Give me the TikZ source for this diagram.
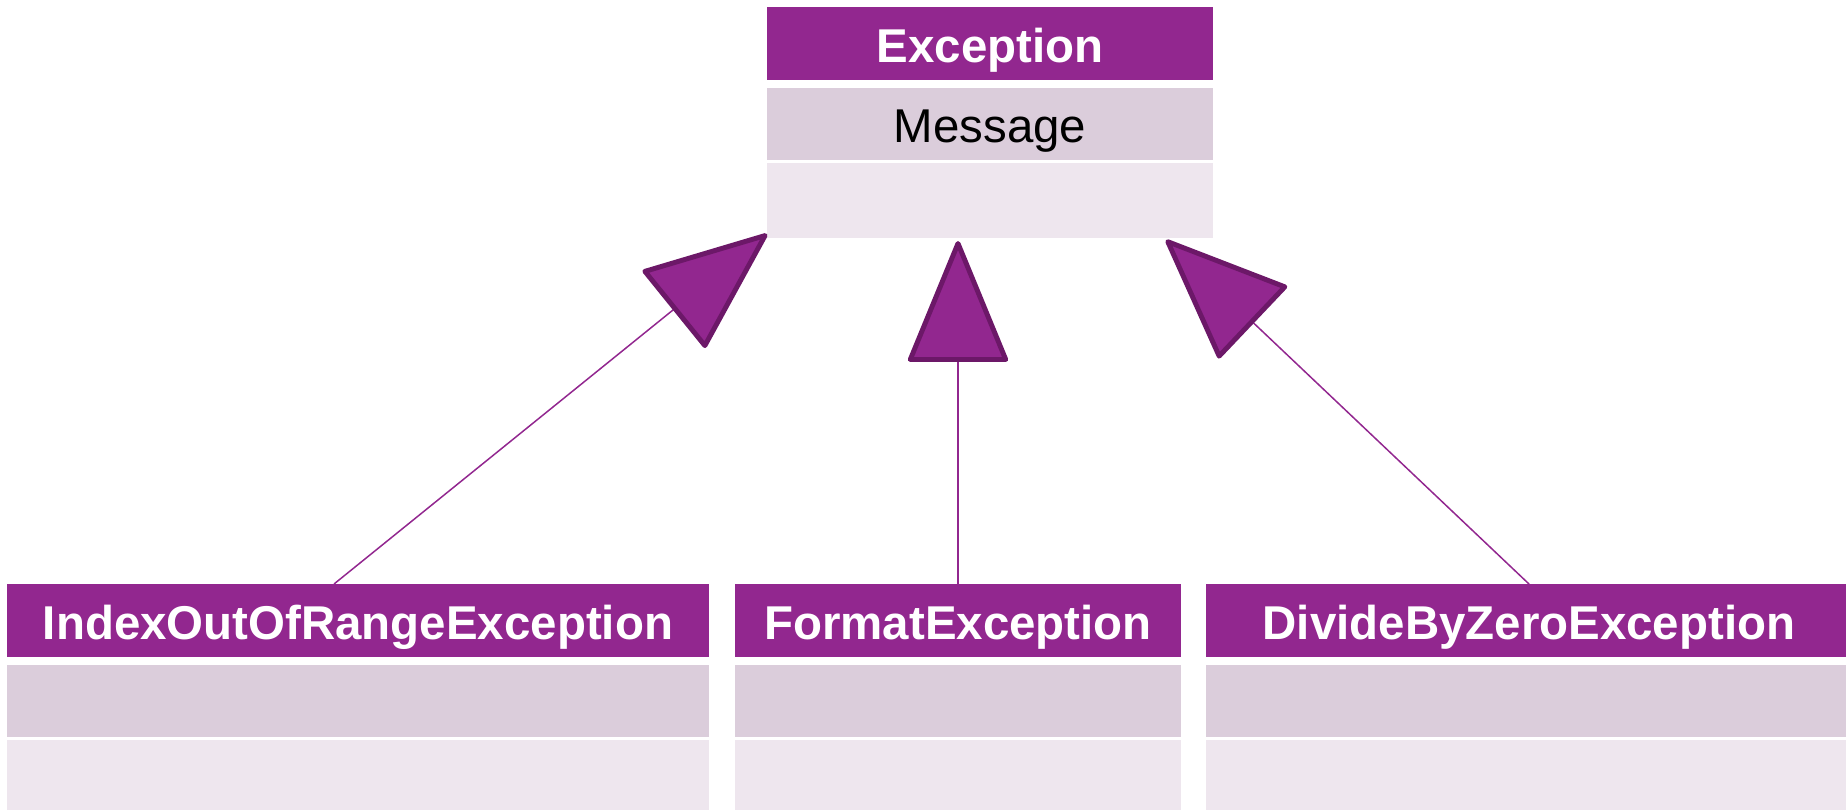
\documentclass[tikz,border=0pt]{standalone}
\usepackage{fontspec}
\setmainfont{Liberation Sans}
\usepackage{xcolor}
\usepackage{tikz}
\usetikzlibrary{positioning}
\usetikzlibrary{arrows.meta}
\usetikzlibrary{calc}
\definecolor{umlpurple}{RGB}{146,39,143}
\definecolor{umldark}{RGB}{108,24,104}
\definecolor{umlattr}{RGB}{219,205,219}
\definecolor{umlops}{RGB}{238,230,238}
\tikzset{
    classhead/.style = {rectangle, fill=umlpurple, text=white, inner sep=0pt, outer sep=0pt, minimum height=1.46cm, text height=26.5pt, text depth=5.4pt, font=\fontsize{27}{32}\selectfont\bfseries},
    classattr/.style = {rectangle, fill=umlattr, inner sep=0pt, outer sep=0pt, minimum height=1.44cm, text height=26.5pt, text depth=5.4pt, font=\fontsize{27}{32}\selectfont},
    classops/.style = {rectangle, fill=umlops, inner sep=0pt, outer sep=0pt, minimum height=1.50cm},
    inherits/.style = {draw=umlpurple, line width=0.85pt, -{Triangle[length=2.5cm, width=2.03cm, line width=2.8pt, round, fill=umlpurple, color=umldark]}},
}
\begin{document}
\begin{tikzpicture}
  \useasboundingbox (0,0) rectangle (36.92,-16.18);

  \node[classhead, minimum width=8.92cm] (exc) at (19.80,-0.87) {Exception};
  \node[classattr, minimum width=8.92cm, below=0.16cm of exc] (excattr) {Message};
  \node[classops, minimum width=8.92cm, below=0.06cm of excattr] (excops) {};

  \node[classhead, minimum width=8.92cm] (fmt) at (19.16,-12.41) {FormatException};
  \node[classattr, minimum width=8.92cm, below=0.16cm of fmt] (fmtattr) {};
  \node[classops, minimum width=8.92cm, below=0.06cm of fmtattr] (fmtops) {};

  \node[classhead, minimum width=14.04cm, left=0.52cm of fmt] (idx) {IndexOutOfRangeException};
  \node[classattr, minimum width=14.04cm, below=0.16cm of idx] (idxattr) {};
  \node[classops, minimum width=14.04cm, below=0.06cm of idxattr] (idxops) {};

  \node[classhead, minimum width=12.92cm, right=0.50cm of fmt] (dbz) {DivideByZeroException};
  \node[classattr, minimum width=12.92cm, below=0.16cm of dbz] (dbzattr) {};
  \node[classops, minimum width=12.92cm, below=0.06cm of dbzattr] (dbzops) {};

  \coordinate (idxend) at ([yshift=0.08cm]excops.south west);
  \coordinate (fmtend) at ($(excops.south -| fmt.north)+(0,-0.06)$);
  \coordinate (dbzend) at ([xshift=-0.94cm,yshift=-0.04cm]excops.south east);

  \draw[inherits] ([xshift=-0.48cm]idx.north) -- (idxend);
  \draw[inherits] (fmt.north) -- (fmtend);
  \draw[inherits] (dbz.north) -- (dbzend);
\end{tikzpicture}
\end{document}
